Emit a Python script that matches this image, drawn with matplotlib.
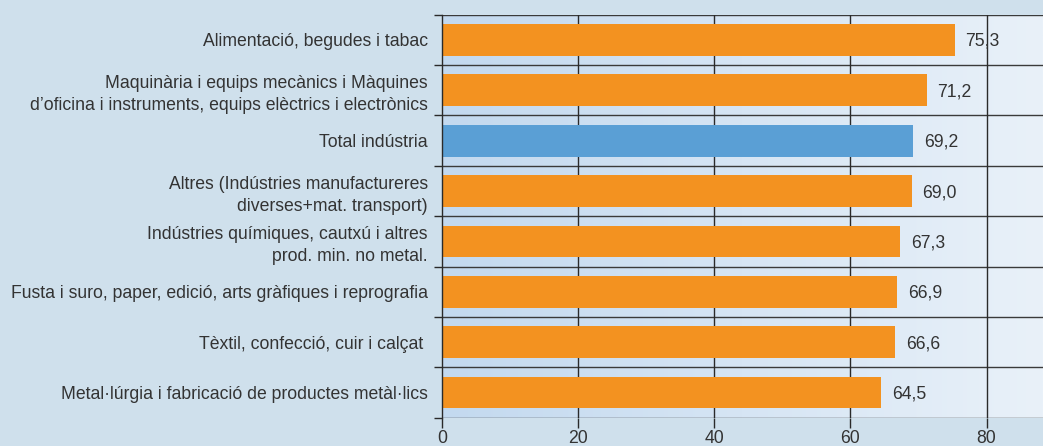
import numpy as np
import matplotlib
matplotlib.use("Agg")
import matplotlib.pyplot as plt
from matplotlib.colors import LinearSegmentedColormap

plt.rcParams['font.family'] = ['Liberation Sans', 'DejaVu Sans']

categories = [
    "Alimentació, begudes i tabac",
    "Maquinària i equips mecànics i Màquines\nd’oficina i instruments, equips elèctrics i electrònics",
    "Total indústria",
    "Altres (Indústries manufactureres\ndiverses+mat. transport)",
    "Indústries químiques, cautxú i altres\nprod. min. no metal.",
    "Fusta i suro, paper, edició, arts gràfiques i reprografia",
    "Tèxtil, confecció, cuir i calçat ",
    "Metal·lúrgia i fabricació de productes metàl·lics",
]
values = [75.3, 71.2, 69.2, 69.0, 67.3, 66.9, 66.6, 64.5]
highlight = "Total indústria"
xticks = [0, 20, 40, 60, 80]

orange = "#f39220"
blue = "#5a9fd5"
text_col = "#333333"
line_col = "#2a2a2a"
fs = 12.7

fig = plt.figure(figsize=(10.43, 4.46), dpi=100)
fig.patch.set_facecolor("#cfe0ec")
ax = fig.add_axes([442.3 / 1043, 1 - 417.7 / 446, 1 - 442.3 / 1043, (417.7 - 14.7) / 446])

xmax = 88.3
n = len(categories)

# gradient background of the plot area
cmap = LinearSegmentedColormap.from_list("bg", ["#c3d9ef", "#d6e5f4", "#e9f1f9"])
grad = np.linspace(0, 1, 256).reshape(1, -1)
ax.imshow(grad, cmap=cmap, aspect="auto", extent=[0, xmax, n - 0.5, -0.5], zorder=0)

y = np.arange(n)
colors = [blue if c == highlight else orange for c in categories]
ax.barh(y, values, height=0.63, color=colors, zorder=2)

for yi, v in zip(y, values):
    ax.text(v + 1.6, yi + 0.03, f"{v:.1f}".replace(".", ","), va="center", ha="left",
            fontsize=fs, color=text_col, zorder=4)

ax.set_xlim(0, xmax)
ax.set_ylim(n - 0.5, -0.5)

ax.set_xticks(xticks)
ax.set_xticklabels([str(t) for t in xticks], fontsize=fs, color=text_col)
ax.tick_params(axis="x", length=7, width=1, color=line_col, pad=2)

ax.set_yticks(y)
ax.set_yticklabels(categories, fontsize=fs, color=text_col, linespacing=1.38)
ax.tick_params(axis="y", which="major", length=0, pad=10.5)
ax.set_yticks(np.arange(n + 1) - 0.5, minor=True)
ax.tick_params(axis="y", which="minor", length=6, width=1, color=line_col)

for b in np.arange(n + 1) - 0.5:
    ax.axhline(b, color="#3a3a3a", lw=1, zorder=1)
for t in xticks[1:]:
    ax.axvline(t, color=line_col, lw=1, zorder=1)

for s in ["top", "right", "bottom"]:
    ax.spines[s].set_visible(False)
ax.spines["left"].set_color(line_col)
ax.spines["left"].set_linewidth(1)
ax.spines["left"].set_zorder(3)

fig.savefig("out.png", dpi=100, facecolor=fig.get_facecolor())
